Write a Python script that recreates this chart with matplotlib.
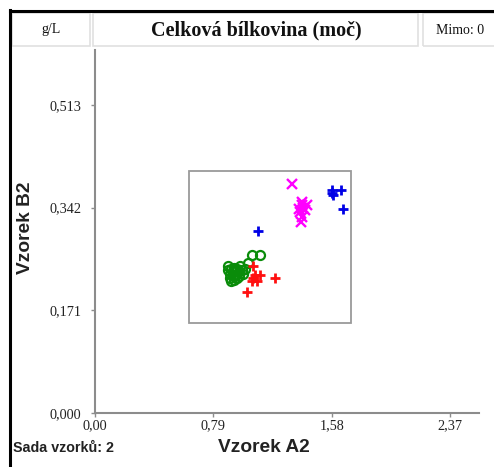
import matplotlib
matplotlib.use("Agg")
import matplotlib.pyplot as plt
from matplotlib.patches import Rectangle

# data
blue_x = [1.582, 1.639, 1.589, 1.580, 1.654, 1.090]
blue_y = [0.3716, 0.3707, 0.3632, 0.3665, 0.3393, 0.3036]

magenta_x = [1.318, 1.380, 1.413, 1.391, 1.368, 1.380, 1.373, 1.402, 1.382, 1.362]
magenta_y = [0.3807, 0.352, 0.3465, 0.341, 0.3353, 0.327, 0.3187, 0.3382, 0.3465, 0.340]

red_x = [1.057, 1.101, 1.057, 1.079, 1.046, 1.202, 1.013, 1.068]
red_y = [0.2442, 0.2302, 0.2247, 0.2192, 0.2192, 0.2247, 0.2009, 0.2302]

green_x = [0.89, 0.90, 0.91, 0.92, 0.93, 0.94, 0.95, 0.96, 0.98, 0.90, 0.92, 0.94,
           0.96, 0.99, 0.91, 0.93, 0.95, 1.00, 0.97, 0.89, 1.023, 1.046, 1.101]
green_y = [0.238, 0.232, 0.240, 0.236, 0.241, 0.237, 0.240, 0.236, 0.238, 0.225, 0.228, 0.230,
           0.228, 0.232, 0.220, 0.222, 0.224, 0.240, 0.244, 0.244, 0.2497, 0.2636, 0.2636]

box_x = [0.628, 1.707]
box_y = [0.149, 0.403]

x_ticks = [0.0, 0.79, 1.58, 2.37]
y_ticks = [0.0, 0.171, 0.342, 0.513]
x_max = 2.563
y_max = 0.605

title = "Celková bílkovina (moč)"
unit = "g/L"
out_txt = "Mimo: 0"
set_txt = "Sada vzorků: 2"

W, H = 494, 467

def fx(px):
    return px / W

def fy(py):
    return 1 - py / H

fig = plt.figure(figsize=(W / 100, H / 100), dpi=100)
fig.patch.set_facecolor("white")

ax = fig.add_axes([fx(95), fy(412.7), fx(479) - fx(95), fy(50) - fy(412.7)])
ax.set_xlim(0, x_max)
ax.set_ylim(0, y_max)
for s in ["top", "right"]:
    ax.spines[s].set_visible(False)
for s in ["left", "bottom"]:
    ax.spines[s].set_color("#8c8c8c")
    ax.spines[s].set_linewidth(1.5)

ax.set_xticks(x_ticks)
ax.set_xticklabels([f"{v:.2f}".replace(".", ",") for v in x_ticks])
ax.set_yticks(y_ticks)
ax.set_yticklabels([f"{v:.3f}".replace(".", ",") for v in y_ticks])
ax.tick_params(axis="both", colors="#8c8c8c", length=3, width=1, labelcolor="#222222",
               labelsize=10.3)
ax.tick_params(axis="x", pad=2)
ax.tick_params(axis="y", pad=7)
for lab in ax.get_xticklabels() + ax.get_yticklabels():
    lab.set_family("Liberation Serif")

ax.add_patch(Rectangle((box_x[0], box_y[0]), box_x[1] - box_x[0], box_y[1] - box_y[0],
                       fill=False, edgecolor="#9a9a9a", linewidth=1.3, zorder=1))

ax.plot(green_x, green_y, "o", mfc="none", mec="#0a8c0a", mew=1.6, ms=6.5, zorder=3)
ax.plot(red_x, red_y, "+", color="#ff1010", mew=2, ms=7, zorder=4)
ax.plot(magenta_x, magenta_y, "x", color="#ff00ff", mew=1.7, ms=6.5, zorder=4)
ax.plot(blue_x, blue_y, "+", color="#0000e6", mew=2, ms=7, zorder=4)

# axis labels
fig.text(fx(264), fy(448), "Vzorek A2", ha="center", va="center", fontsize=13.8,
         fontweight="bold", family="Liberation Sans", color="#222222")
fig.text(fx(25), fy(228), "Vzorek B2", ha="center", va="center", rotation=90,
         fontsize=13.8, fontweight="bold", family="Liberation Sans", color="#222222")
fig.text(fx(13), fy(448), set_txt, ha="left", va="center", fontsize=10.3,
         fontweight="bold", family="Liberation Sans", color="#222222")

# header boxes
for x0, x1 in [(12, 90), (93, 418), (423, 500)]:
    fig.patches.append(Rectangle((fx(x0), fy(46)), fx(x1) - fx(x0), fy(13) - fy(46),
                                 transform=fig.transFigure, fill=False,
                                 edgecolor="#e0e0e0", linewidth=1.2))
fig.text(fx(51), fy(30), unit, ha="center", va="center", fontsize=10,
         family="Liberation Serif", color="#111111")
fig.text(fx(256), fy(30), title, ha="center", va="center", fontsize=14.5,
         fontweight="bold", family="Liberation Serif", color="#111111")
fig.text(fx(460), fy(30), out_txt, ha="center", va="center", fontsize=10,
         family="Liberation Serif", color="#111111")

# outer black frame (left and top edges only visible)
fig.add_artist(plt.Line2D([fx(9.5), fx(9.5)], [fy(10), 0], transform=fig.transFigure,
                          color="black", linewidth=2.2))
fig.add_artist(plt.Line2D([fx(9.5), 1], [fy(10.5), fy(10.5)], transform=fig.transFigure,
                          color="black", linewidth=2.2))

fig.savefig("out.png", dpi=100)
